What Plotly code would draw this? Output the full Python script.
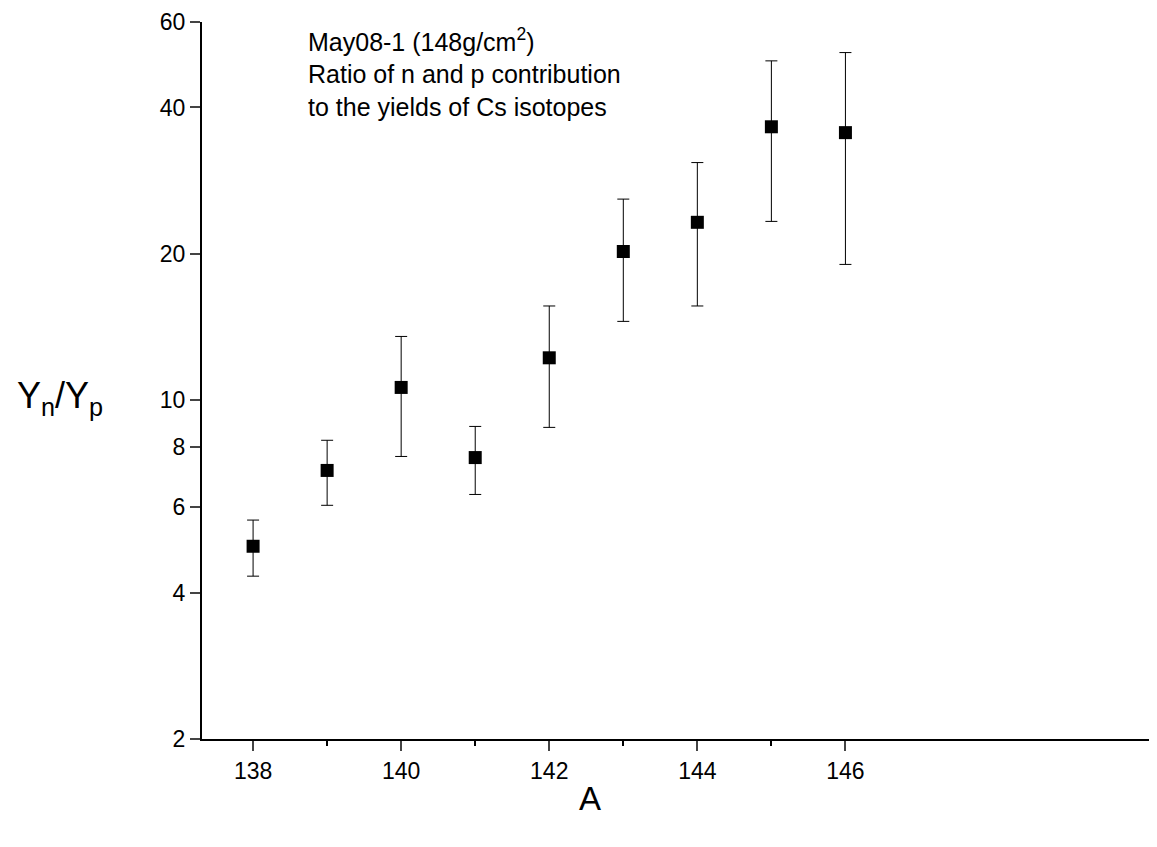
import plotly.graph_objects as go

mass = [138, 139, 140, 141, 142, 143, 144, 145, 146]
ratio = [4.99, 7.15, 10.6, 7.6, 12.2, 20.2, 23.2, 36.5, 35.5]
err_hi = [5.65, 8.25, 13.5, 8.81, 15.6, 25.9, 30.8, 49.9, 51.9]
err_lo = [4.33, 6.06, 7.64, 6.38, 8.77, 14.5, 15.6, 23.3, 19.0]

x_ticks = [138, 140, 142, 144, 146]
x_minor = [139, 141, 143, 145]
y_ticks = [2, 4, 6, 8, 10, 20, 40, 60]

font = "Liberation Sans, Arial, sans-serif"

fig = go.Figure()
fig.add_trace(go.Scatter(
    x=mass, y=ratio, mode="markers",
    marker={"symbol": "square", "size": 13, "color": "black"},
    error_y={"type": "data", "symmetric": False,
             "array": [h - r for h, r in zip(err_hi, ratio)],
             "arrayminus": [r - l for r, l in zip(ratio, err_lo)],
             "color": "black", "thickness": 1, "width": 6},
    showlegend=False))

fig.update_xaxes(range=[137.31, 150.1], tickvals=x_ticks, ticks="outside",
                 ticklen=10, tickwidth=2, showline=True, linewidth=2, linecolor="black",
                 showgrid=False, zeroline=False, tickfont={"size": 23, "family": font},
                 automargin=False,
                 minor={"tickvals": x_minor, "ticks": "outside", "ticklen": 5,
                        "tickwidth": 2, "tickcolor": "black"})
fig.update_yaxes(type="log", range=[0.30103, 1.77815], tickvals=y_ticks,
                 ticks="outside", ticklen=10, tickwidth=2, showline=True, linewidth=2,
                 linecolor="black", showgrid=False, zeroline=False,
                 tickfont={"size": 23, "family": font}, automargin=False)

fig.add_annotation(text="May08-1 (148g/cm<sup>2</sup>)<br>Ratio of n and p contribution<br>to the yields of Cs isotopes",
                   xref="paper", yref="paper", x=0.11, y=1.0, xanchor="left", yanchor="top",
                   align="left", showarrow=False, font={"size": 25})
fig.add_annotation(text="Y<sub>n</sub>/Y<sub>p</sub>", xref="paper", yref="paper",
                   x=-0.197, y=0.475, xanchor="left", showarrow=False, font={"size": 36})
fig.add_annotation(text="A", xref="paper", yref="paper", x=0.41, y=-0.055,
                   yanchor="top", showarrow=False, font={"size": 33})

fig.update_layout(plot_bgcolor="white", paper_bgcolor="white",
                  font={"family": font, "color": "black", "size": 20},
                  margin={"l": 194, "r": 0, "t": 14, "b": 100})
fig.write_html("out.html")
